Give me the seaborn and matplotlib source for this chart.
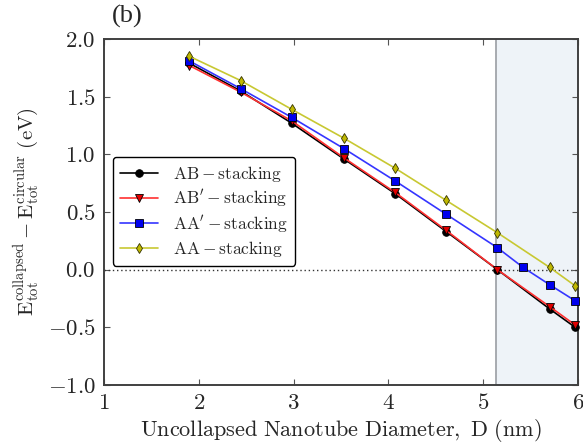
import matplotlib
matplotlib.use("Agg")
import matplotlib.pyplot as plt
import seaborn as sns
import pandas as pd

# Nanotube diameters (nm) for the computed armchair tubes
diameter = [1.90, 2.44, 2.98, 3.53, 4.07, 4.61, 5.15, 5.70, 5.97]
diameter_aa_prime = [1.90, 2.44, 2.98, 3.53, 4.07, 4.61, 5.15, 5.42, 5.70, 5.97]

# Energy difference E_collapsed - E_circular (eV)
e_ab = [1.79, 1.55, 1.27, 0.96, 0.66, 0.33, 0.00, -0.34, -0.50]
e_ab_prime = [1.77, 1.54, 1.29, 0.97, 0.67, 0.34, 0.00, -0.32, -0.48]
e_aa_prime = [1.81, 1.57, 1.32, 1.05, 0.77, 0.48, 0.19, 0.02, -0.13, -0.27]
e_aa = [1.85, 1.64, 1.39, 1.14, 0.88, 0.60, 0.32, 0.02, -0.14]

labels = [r"$\mathrm{AB-stacking}$", r"$\mathrm{AB'-stacking}$",
          r"$\mathrm{AA'-stacking}$", r"$\mathrm{AA-stacking}$"]
x_ticks = [1, 2, 3, 4, 5, 6]
y_ticks = [-1.0, -0.5, 0.0, 0.5, 1.0, 1.5, 2.0]
collapse_threshold = 5.13

sns.set_style("ticks")
plt.rcParams.update({
    "font.family": ["serif"],
    "font.serif": ["cmr10", "DejaVu Serif"],
    "mathtext.fontset": "cm",
    "axes.formatter.use_mathtext": True,
    "xtick.direction": "in",
    "ytick.direction": "in",
    "xtick.top": True,
    "ytick.right": True,
})

fig = plt.figure(figsize=(5.83, 4.43), dpi=100)
ax = fig.add_axes([0.1784, 0.131, 0.8130, 0.781])

ax.axvspan(collapse_threshold, 6, color="#eef3f8", zorder=0)
ax.axvline(collapse_threshold, color="#9a9ea3", lw=1.2, zorder=1)
ax.axhline(0.0, color="#333333", lw=1.0, ls=(0, (1, 2)), zorder=1)

series = [
    (diameter, e_ab, labels[0], "black", "black", "o"),
    (diameter, e_ab_prime, labels[1], "#ff3030", "#e00000", "v"),
    (diameter_aa_prime, e_aa_prime, labels[2], "#3535ff", "#0000ee", "s"),
    (diameter, e_aa, labels[3], "#c8c832", "#c0b800", "d"),
]
for xs, ys, lab, lc, mc, mk in series:
    df = pd.DataFrame({"D": xs, "E": ys})
    sns.lineplot(data=df, x="D", y="E", ax=ax, color=lc, lw=1.2,
                 marker=mk, markersize=5.5, markerfacecolor=mc,
                 markeredgecolor="#333300" if mk == "d" else "black",
                 markeredgewidth=0.6, label=lab, clip_on=False, zorder=3)

ax.set_xlim(1, 6)
ax.set_ylim(-1.0, 2.0)
ax.set_xticks(x_ticks)
ax.set_yticks(y_ticks)
ax.set_xticklabels([f"${t}$" for t in x_ticks])
ax.set_yticklabels([f"${t:.1f}$" for t in y_ticks])
ax.tick_params(labelsize=16.5, length=4, width=0.8, color="#555555", pad=6)
for sp in ax.spines.values():
    sp.set_linewidth(1.4)
    sp.set_color("#404040")

ax.set_xlabel(r"$\mathrm{Uncollapsed\ Nanotube\ Diameter,\ D\ (nm)}$", fontsize=16, labelpad=3)
ax.set_ylabel(r"$\mathrm{E_{tot}^{collapsed}-E_{tot}^{circular}\ (eV)}$", fontsize=15, labelpad=4)

leg = ax.legend(loc="upper left", bbox_to_anchor=(0.0, 0.685), fontsize=12.5,
                frameon=True, fancybox=True, edgecolor="black", framealpha=1,
                handlelength=2.2, handletextpad=0.9, labelspacing=0.22,
                borderpad=0.4)
leg.get_frame().set_linewidth(1.0)

fig.text(0.192, 0.963, "(b)", fontsize=19, family="Liberation Serif", va="center")

fig.savefig("out.png", dpi=100)
